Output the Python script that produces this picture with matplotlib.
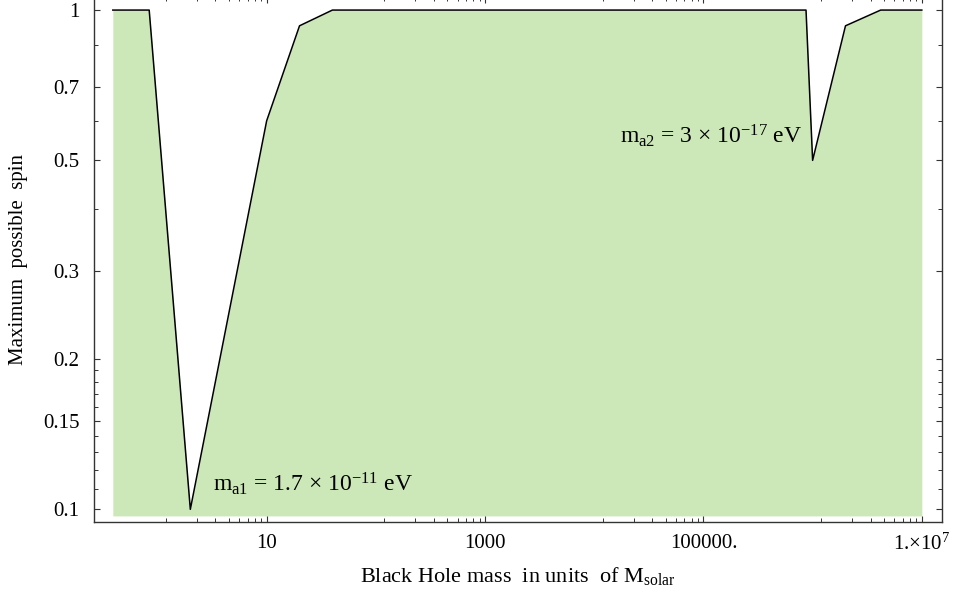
import numpy as np
import matplotlib
matplotlib.use("Agg")
import matplotlib.pyplot as plt
from matplotlib.ticker import FixedLocator, FixedFormatter

plt.rcParams['font.family'] = ['Liberation Serif', 'DejaVu Serif']
plt.rcParams['mathtext.fontset'] = 'custom'
plt.rcParams['mathtext.rm'] = 'Liberation Serif'
plt.rcParams['mathtext.it'] = 'Liberation Serif:italic'

# data
mass = [0.39, 0.84, 2.0, 10, 20, 40, 8.7e5, 1.0e6, 2.0e6, 4.2e6, 1e7]
spin = [1, 1, 0.1, 0.6, 0.93, 1, 1, 0.5, 0.93, 1, 1]
fill_base = 0.097

xmajor = [10, 1000, 1e5, 1e7]
xmajor_labels = ['10', '1000', '100000.', r'1.$\times$10$^{7}$']
ymajor = [0.1, 0.15, 0.2, 0.3, 0.5, 0.7, 1]
ymajor_labels = ['0.1', '0.15', '0.2', '0.3', '0.5', '0.7', '1']
yminor = [0.11, 0.12, 0.13, 0.14, 0.16, 0.17, 0.18, 0.19, 0.4, 0.6, 0.85]

# mathematica style minor ticks: linear steps between majors two decades apart
xminor = []
for a in [-1, 1, 3, 5, 7]:
    lo, hi = 10.0 ** a, 10.0 ** (a + 2)
    for k in range(1, 9):
        xminor.append(lo + k * (hi - lo) / 9)

fig = plt.figure(figsize=(9.58, 5.94), dpi=100)
ax = fig.add_axes([0.0981, 0.1217, 0.8855, 0.8833])

ax.fill_between(mass, spin, fill_base, color='#cde8b8', lw=0)
ax.plot(mass, spin, color='black', lw=1.1)

ax.set_xscale('log')
ax.set_yscale('log')
ax.set_xlim(0.2622, 1.54e7)
ax.set_ylim(0.09445, 1.062)

ax.xaxis.set_major_locator(FixedLocator(xmajor))
ax.xaxis.set_major_formatter(FixedFormatter(xmajor_labels))
ax.xaxis.set_minor_locator(FixedLocator(xminor))
ax.xaxis.set_minor_formatter(FixedFormatter([''] * len(xminor)))
ax.yaxis.set_major_locator(FixedLocator(ymajor))
ax.yaxis.set_major_formatter(FixedFormatter(ymajor_labels))
ax.yaxis.set_minor_locator(FixedLocator(yminor))
ax.yaxis.set_minor_formatter(FixedFormatter([''] * len(yminor)))

ax.tick_params(which='both', direction='in', top=True, right=True,
               labelsize=15, color='#333333')
ax.tick_params(which='major', length=4.5, width=0.8)
ax.tick_params(which='minor', length=2.8, width=0.7)
ax.tick_params(axis='x', pad=8.5)
ax.tick_params(axis='y', pad=10.5)
for s in ax.spines.values():
    s.set_linewidth(1.0)
    s.set_color('#333333')

ax.set_xlabel(r'Black Hole mass  in units  of M$_{\mathregular{solar}}$', fontsize=16)
ax.xaxis.set_label_coords(0.5, -0.1144)
ax.xaxis.label.set_va('baseline')
ax.set_ylabel('Maximum  possible  spin', fontsize=15)
ax.yaxis.set_label_coords(-0.0884, 0.5)
ax.yaxis.label.set_va('center')
ax.yaxis.label.set_ha('center')

ax.text(3.22, 0.1088, r'm$_{\mathregular{a1}}$ = 1.7 × 10$^{\mathregular{-11}}$ eV',
        fontsize=17, va='baseline', ha='left')
ax.text(1.72e4, 0.541, r'm$_{\mathregular{a2}}$ = 3 × 10$^{\mathregular{-17}}$ eV',
        fontsize=17, va='baseline', ha='left')

fig.savefig('out.png', dpi=100)
